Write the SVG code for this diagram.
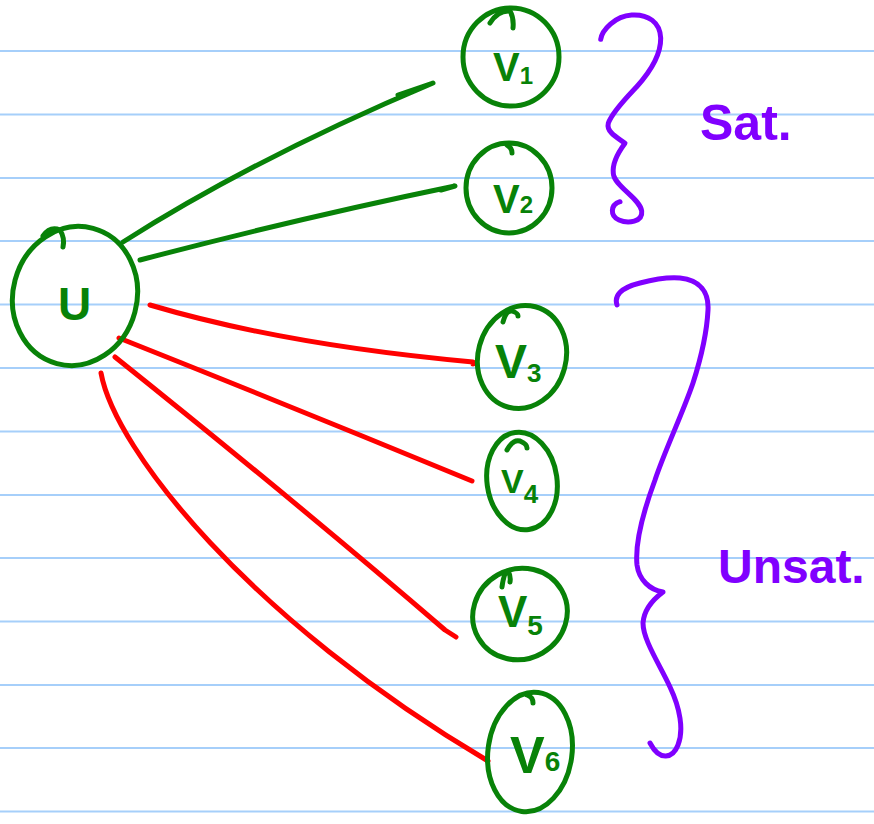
<svg xmlns="http://www.w3.org/2000/svg" width="874" height="824" viewBox="0 0 874 824">
<style>
.rule{stroke:#a6cffa;stroke-width:2}
.node{fill:none;stroke:#088208;stroke-width:5;stroke-linecap:round;stroke-linejoin:round}
.lbl{fill:#088208;font-family:"Liberation Sans",Arial,sans-serif;font-weight:bold}
.g{fill:none;stroke:#088208;stroke-width:5;stroke-linecap:round;stroke-linejoin:round}
.r{fill:none;stroke:#ff0000;stroke-width:5;stroke-linecap:round;stroke-linejoin:round}
.brace{fill:none;stroke:#8000ff;stroke-width:5;stroke-linecap:round;stroke-linejoin:round}
.note{fill:#8000ff;font-family:"Liberation Sans",Arial,sans-serif;font-weight:bold}
</style>
<rect width="874" height="824" fill="#ffffff"/>
<g id="rules">
<line class="rule" x1="0" y1="51" x2="874" y2="51"/>
<line class="rule" x1="0" y1="114.5" x2="874" y2="114.5"/>
<line class="rule" x1="0" y1="178" x2="874" y2="178"/>
<line class="rule" x1="0" y1="241" x2="874" y2="241"/>
<line class="rule" x1="0" y1="304.5" x2="874" y2="304.5"/>
<line class="rule" x1="0" y1="368" x2="874" y2="368"/>
<line class="rule" x1="0" y1="431.5" x2="874" y2="431.5"/>
<line class="rule" x1="0" y1="495" x2="874" y2="495"/>
<line class="rule" x1="0" y1="558" x2="874" y2="558"/>
<line class="rule" x1="0" y1="621.5" x2="874" y2="621.5"/>
<line class="rule" x1="0" y1="685" x2="874" y2="685"/>
<line class="rule" x1="0" y1="748" x2="874" y2="748"/>
<line class="rule" x1="0" y1="811.5" x2="874" y2="811.5"/>
</g>
<g id="connectors">
<path class="g" d="M123,242 Q255,158 433,83 L398,95"/>
<path class="g" d="M140,260 Q300,218 455,186 L441,190"/>
<path class="r" d="M150,305 Q285,345 473,362 L473,364"/>
<path class="r" d="M119,338 Q295,408 472,481"/>
<path class="r" d="M115,357 Q300,505 445,630 L456,637"/>
<path class="r" d="M101,373 C115,450 250,620 488,761"/>
</g>
<g id="node-U">
<ellipse class="node" cx="75" cy="296" rx="62" ry="70" transform="rotate(15 75 296)"/>
<path class="node" d="M43,236 Q50,226 60,230 Q65,238 63,247"/>
<text class="lbl" x="58" y="320" font-size="46">U</text>
</g>
<g id="node-V1">
<ellipse class="node" cx="511" cy="57" rx="48" ry="49"/>
<path class="node" d="M490,23 Q498,10 510,11 Q514,18 513,28"/>
<text class="lbl" x="493" y="81" font-size="40">V<tspan font-size="24" dy="3">1</tspan></text>
</g>
<g id="node-V2">
<ellipse class="node" cx="509" cy="188" rx="43" ry="45"/>
<path class="node" d="M507,145 Q512,148 512,153"/>
<text class="lbl" x="493" y="213" font-size="40">V<tspan font-size="24" dy="0">2</tspan></text>
</g>
<g id="node-V3">
<ellipse class="node" cx="522" cy="357" rx="44" ry="52" transform="rotate(15 522 357)"/>
<path class="node" d="M503,322 Q506,310 512,311 Q518,313 518,316"/>
<text class="lbl" x="495" y="378" font-size="48">V<tspan font-size="26" dy="4">3</tspan></text>
</g>
<g id="node-V4">
<ellipse class="node" cx="522" cy="481" rx="35" ry="49" transform="rotate(-8 522 481)"/>
<path class="node" d="M507,450 Q513,439 520,441 Q527,444 527,448"/>
<text class="lbl" x="501" y="493" font-size="34">V<tspan font-size="26" dy="10">4</tspan></text>
</g>
<g id="node-V5">
<ellipse class="node" cx="520" cy="614" rx="48" ry="45" transform="rotate(-30 520 614)"/>
<path class="node" d="M502,587 Q504,572 508,571 Q511,576 510,582"/>
<text class="lbl" x="498" y="627" font-size="44">V<tspan font-size="28" dy="8">5</tspan></text>
</g>
<g id="node-V6">
<ellipse class="node" cx="530" cy="752" rx="42" ry="60" transform="rotate(8 530 752)"/>
<path class="node" d="M527,695 Q533,697 533,703"/>
<text class="lbl" x="510" y="773" font-size="52">V<tspan font-size="28" dy="-2">6</tspan></text>
</g>
<g id="brace-sat">
<path class="brace" d="M600.7,39.3 C602,30 615,16 631.7,15 C648,14 660,22 660.7,38 C661,55 650,72 636.7,86.7 C628,96 612,112 608.3,123.3 C606,132 618,138 625,143.3 C620,150 612,162 613.3,173.3 C614,186 640,198 641.7,211 C643,222 628,224 619,220 C610,216 610,205 620,201.7"/>
<text class="note" x="700" y="140" font-size="50">Sat.</text>
</g>
<g id="brace-unsat">
<path class="brace" d="M617,305 C614,296 620,288 640,283 C655,279 668,277 680,278 C700,280 709,292 708,310 C707,330 702,355 693,383 C682,415 665,450 655,480 C642,515 635,545 637,565 C639,580 650,590 663,592 C655,598 644,608 643,623 C643,640 660,665 670,687 C680,708 684,730 678,745 C673,758 660,762 650,743"/>
<text class="note" x="718" y="583" font-size="48">Unsat.</text>
</g>
</svg>
